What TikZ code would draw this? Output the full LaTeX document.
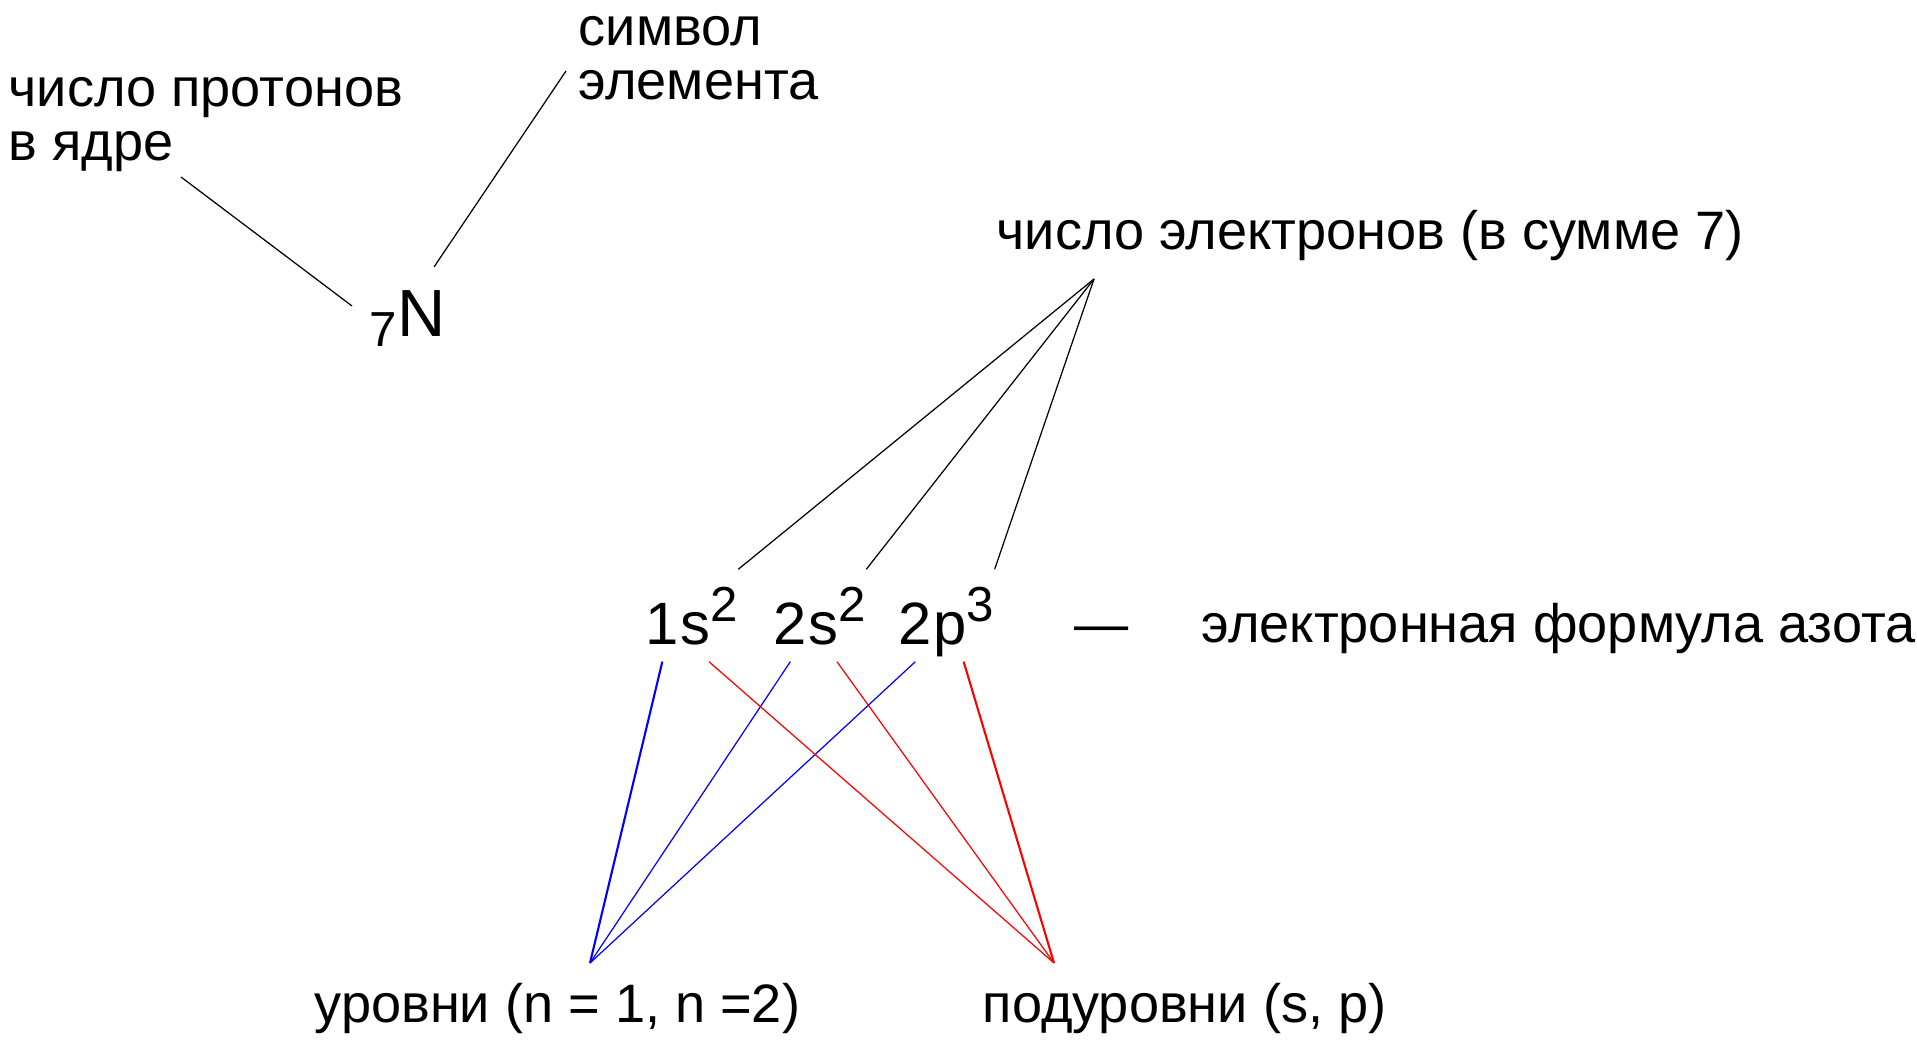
\documentclass[tikz,border=0pt]{standalone}
\usepackage{fontspec}
\setmainfont{Liberation Sans}
\usetikzlibrary{positioning}
\newcommand{\esup}[1]{\raisebox{0.23cm}{\fontsize{14}{14}\selectfont #1}}

\begin{document}
\begin{tikzpicture}[note/.style={inner sep=0pt, anchor=base west, align=left, font=\fontsize{15.4}{15.4}\selectfont},
    term/.style={inner sep=0pt, anchor=base west, text height=0.75cm, text depth=0.16cm, font=\fontsize{17}{17}\selectfont},
    thin line/.style={line width=0.35pt},
    thick line/.style={line width=0.6pt}]
    \useasboundingbox (0,0) rectangle (19.17,10.39);

    \node[note] (protons) at (0.08,8.78) {число протонов\\в ядре};
    \node[note] (symbol) at (5.78,9.39) {символ\\элемента};
    \node[inner sep=0pt, anchor=base west, font=\fontsize{19}{19}\selectfont] (nitrogen) at (3.69,7.02) {\raisebox{-0.1cm}{\fontsize{14}{14}\selectfont 7}N};
    \node[note] (electrons) at (9.96,7.89) {число электронов (в сумме 7)};

    \node[term] (n1) at (6.45,3.94) {1};
    \node[term, right=0pt of n1] (o1) {s\esup{2}};
    \node[term] (n2) at (7.73,3.94) {2};
    \node[term, right=0pt of n2] (o2) {s\esup{2}};
    \node[term] (n3) at (8.98,3.94) {2};
    \node[term, right=0pt of n3] (o3) {p\esup{3}};

    \node[note] (dash) at (10.74,3.96) {—};
    \node[note] (formula) at (12.01,3.96) {электронная формула азота};

    \node[note] (levels) at (3.14,0.17) {уровни (n = 1, n =2)};
    \node[note] (sublevels) at (9.82,0.17) {подуровни (s, p)};

    \coordinate (protons end) at (1.81,8.62);
    \coordinate (nitrogen left) at (3.52,7.33);
    \coordinate (symbol end) at (5.66,9.68);
    \coordinate (nitrogen top) at (4.34,7.72);
    \coordinate (electrons apex) at (10.94,7.60);
    \coordinate (levels apex) at (5.90,0.76);
    \coordinate (sublevels apex) at (10.54,0.76);

    \draw[thin line] (protons end) -- (nitrogen left);
    \draw[thin line] (symbol end) -- (nitrogen top);

    \draw[thin line] (electrons apex) -- (o1.north east);
    \draw[thin line] (electrons apex) -- (o2.north east);
    \draw[thin line] (electrons apex) -- (o3.north east);

    \draw[blue, thick line] (levels apex) -- (n1.south);
    \draw[blue, thin line] (levels apex) -- (n2.south);
    \draw[blue, thin line] (levels apex) -- (n3.south);

    \draw[red, thin line] (sublevels apex) -- (o1.south);
    \draw[red, thin line] (sublevels apex) -- (o2.south);
    \draw[red, thick line] (sublevels apex) -- (o3.south);
\end{tikzpicture}
\end{document}
